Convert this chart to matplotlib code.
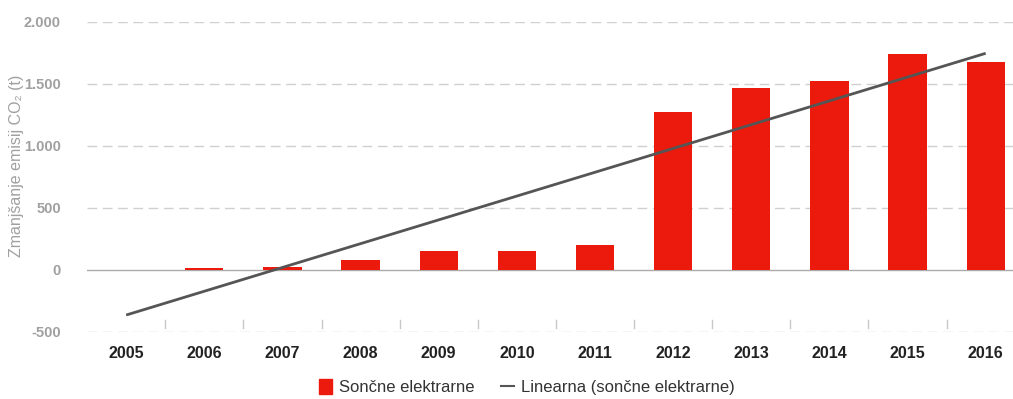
import numpy as np
import matplotlib
matplotlib.use("Agg")
from matplotlib import pyplot as plt
from matplotlib.lines import Line2D
from matplotlib.patches import Patch

plt.rcParams['font.family'] = ['Liberation Sans', 'DejaVu Sans']

# data
years = ['2005', '2006', '2007', '2008', '2009', '2010',
         '2011', '2012', '2013', '2014', '2015', '2016']
solar = [0, 12, 25, 80, 150, 150, 200, 1274, 1468, 1524, 1742, 1677]
y_ticks = [-500, 0, 500, 1000, 1500, 2000]
y_tick_labels = ['-500', '0', '500', '1.000', '1.500', '2.000']

bar_red = '#ec1a0c'
trend_grey = '#555555'
grid_grey = '#d0d0d0'

fig = plt.figure(figsize=(10.13, 3.99), dpi=100)
ax = fig.add_axes([0.086, 0.168, 0.914, 0.777])

x = np.arange(len(years))

# gridlines (dashed), zero line solid
for v in y_ticks:
    if v == 0:
        ax.axhline(v, color='#aaaaaa', lw=1.0, zorder=1)
    else:
        ax.axhline(v, color=grid_grey, lw=1.0, ls=(0, (7, 4)), zorder=0)

ax.bar(x, solar, width=0.49, color=bar_red, linewidth=0, zorder=2)

# linear trend through the bar values
slope, intercept = np.polyfit(x, solar, 1)
ax.plot([x[0], x[-1]], [intercept + slope * x[0], intercept + slope * x[-1]],
        color=trend_grey, lw=2.0, zorder=3, solid_capstyle='butt')

# small category separator ticks above the bottom gridline
for b in x[:-1] + 0.5:
    ax.plot([b, b], [-400, -465], color='#c8c8c8', lw=1.0, zorder=1)

ax.set_xlim(-0.5, 11.35)
ax.set_ylim(-500, 2000)
ax.set_yticks(y_ticks)
ax.set_yticklabels(y_tick_labels, color='#a0a0a0', fontsize=10.5,
                   fontweight='bold')
ax.set_xticks(x)
ax.set_xticklabels(years, fontsize=11.5, fontweight='bold', color='#222222')
ax.tick_params(axis='both', length=0)
ax.tick_params(axis='y', pad=19)
ax.tick_params(axis='x', pad=10)
for s in ax.spines.values():
    s.set_visible(False)

fig.text(0.016, 0.585, 'Zmanjšanje emisij CO₂ (t)', rotation=90,
         ha='center', va='center', fontsize=11.5, color='#a0a0a0')

handles = [Patch(facecolor=bar_red, edgecolor=bar_red),
           Line2D([], [], color=trend_grey, lw=1.5)]
fig.legend(handles, ['Sončne elektrarne', 'Linearna (sončne elektrarne)'],
           loc='center', bbox_to_anchor=(0.52, 0.03), ncol=2, frameon=False,
           fontsize=12, handlelength=0.8, handleheight=1.0, handletextpad=0.4,
           columnspacing=1.6, labelcolor='#333333')

fig.savefig('out.png', dpi=100)
